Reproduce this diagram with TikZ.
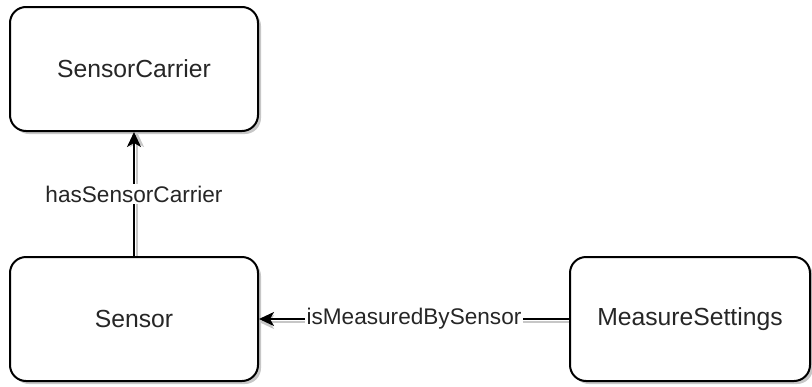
\documentclass[tikz,border=0pt]{standalone}
\usepackage{fontspec}
\setmainfont{Liberation Sans}
\usetikzlibrary{shadows,arrows.meta}
\definecolor{txt}{HTML}{262626}
\tikzset{
  entity/.style={draw=black, line width=2pt, fill=white, rounded corners=16pt,
    minimum width=248pt, minimum height=124pt, inner sep=0pt,
    font=\fontsize{24.7pt}{28pt}\selectfont, text=txt,
    drop shadow={shadow xshift=3pt, shadow yshift=-3pt, fill=black, opacity=0.22}},
  rel/.style={draw=black, line width=2pt, -{Stealth[length=15pt, width=14pt, inset=4pt]}},
  relshadow/.style={draw=black!22, line width=2pt, -{Stealth[length=15pt, width=14pt, inset=4pt]}},
  lbl/.style={fill=white, inner sep=1.5pt, font=\fontsize{22.6pt}{26pt}\selectfont, text=txt}
}
\begin{document}
\begin{tikzpicture}[x=1pt, y=-1pt]
  \useasboundingbox (0,0) rectangle (812,386);
  \node[entity] (carrier) at (134,69) {SensorCarrier};
  \node[entity] (sensor) at (134,319) {Sensor};
  \node[entity, minimum width=240pt] (settings) at (690,319) {MeasureSettings};
  % shadows of the relations
  \draw[relshadow] ([xshift=3pt]sensor.north) -- ([xshift=3pt]carrier.south);
  \draw[relshadow] ([yshift=-3pt]settings.west) -- ([yshift=-3pt]sensor.east);
  % relations
  \draw[rel] (sensor.north) -- node[lbl] {hasSensorCarrier} (carrier.south);
  \draw[rel] (settings.west) -- node[lbl] {isMeasuredBySensor} (sensor.east);
\end{tikzpicture}
\end{document}
